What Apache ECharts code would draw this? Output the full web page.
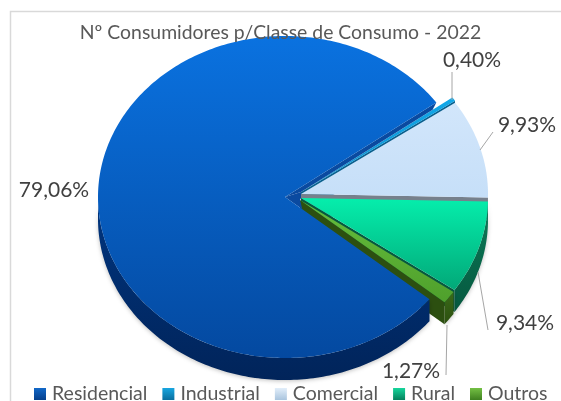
<!DOCTYPE html>
<html>
<head>
<meta charset="utf-8">
<style>
html, body { margin: 0; padding: 0; background: #fff; }
#main { width: 561px; height: 401px; }
</style>
</head>
<body>
<div id="main"></div>
<script src="https://cdn.jsdelivr.net/npm/echarts@6/dist/echarts.min.js"></script>
<script>
const titleText = 'Nº Consumidores p/Classe de Consumo - 2022'
const categories = ['Residencial', 'Industrial', 'Comercial', 'Rural', 'Outros']
const shares = [79.06, 0.40, 9.93, 9.34, 1.27]

// look of the tilted pie
const firstAngle = -39.4
const rx = 187
const ry = 161
const depth = 22
const fontName = 'Lato, sans-serif'

const apex = [[285, 197], [301, 192], [301, 194], [301, 198], [300, 200]]
const topColors = [
  ['#0a72e0', '#0449a0'],
  ['#12a8e8', '#0b8fd0'],
  ['#d2e6fb', '#c6dff8'],
  ['#05eeac', '#02a878'],
  ['#66bd3c', '#4fa02c']
]
const wallColors = [
  ['#00357f', '#01245a'],
  ['#0a5f8c', '#0a5f8c'],
  ['#76808c', '#76808c'],
  ['#0b7a58', '#06583f'],
  ['#3a6a18', '#2c4f10']
]
const iconColors = [
  ['#1268c8', '#063f8c'],
  ['#18a6e0', '#0a6f9f'],
  ['#e2eefa', '#a9c4de'],
  ['#16d69c', '#06805c'],
  ['#74c044', '#3f8020']
]
const labelAt = [[54, 190], [472, 60], [527, 125], [525, 323], [411, 371]]
const leaderLines = [
  null,
  [[452, 72], [452, 100]],
  [[493, 132], [480, 150]],
  [[488, 330], [478, 272]],
  [[446, 375], [447, 325]]
]
const drawOrder = [5, 1, 2, 3, 4] // residencial on top of the others

function gradient (pair) {
  return new echarts.graphic.LinearGradient(0, 0, 0, 1, [
    { offset: 0, color: pair[0] },
    { offset: 1, color: pair[1] }
  ])
}

function pointAt (c, deg, dy) {
  const a = deg * Math.PI / 180
  return [c[0] + rx * Math.cos(a), c[1] - ry * Math.sin(a) + (dy || 0)]
}

function arc (c, from, to, dy) {
  const n = Math.max(2, Math.ceil(Math.abs(to - from)))
  const pts = []
  for (let i = 0; i <= n; i++) {
    pts.push(pointAt(c, from + (to - from) * i / n, dy))
  }
  return pts
}

function along (a, b, t) {
  return [a[0] + (b[0] - a[0]) * t, a[1] + (b[1] - a[1]) * t]
}

// slices go clockwise from firstAngle, in data order
function sliceAngles (index, value) {
  let start = firstAngle
  for (let i = 0; i < index; i++) {
    start -= shares[i] * 3.6
  }
  if (index > 0) start += 360 // past the first slice, back to the right hand side
  return [start, start - value * 3.6]
}

function sliceItem (index, api) {
  const value = api.value(0)
  const c = apex[index]
  const [from, to] = sliceAngles(index, value)
  const children = []

  // outer wall, front half only
  const wallFrom = Math.min(from, 0)
  const wallTo = Math.max(to, -180)
  if (wallFrom > wallTo) {
    children.push({
      type: 'polygon',
      shape: { points: arc(c, wallFrom, wallTo, 0).concat(arc(c, wallFrom, wallTo, depth).reverse()) },
      style: { fill: gradient(wallColors[index]), shadowBlur: 4, shadowColor: 'rgba(0,0,0,0.25)', shadowOffsetY: 1 }
    })
  }

  if (index === 0) {
    // dark strip in the gap up to the industrial slice, and behind the apexes
    const tip = pointAt(c, to)
    const next = apex[1]
    children.push({
      type: 'polygon',
      shape: { points: [c, tip, along(next, pointAt(next, to), 0.87), next] },
      style: { fill: '#0a4aa0' }
    })
    children.push({
      type: 'polygon',
      shape: { points: [c].concat(apex.slice(1), [along(c, pointAt(c, from), 0.12)]) },
      style: { fill: '#0a4aa0' }
    })
  } else {
    // cut face on the trailing edge
    const edge = pointAt(c, to)
    children.push({
      type: 'polygon',
      shape: { points: [c, edge, [edge[0], edge[1] + depth], [c[0], c[1] + depth]] },
      style: { fill: wallColors[index][1] }
    })
  }

  // top face
  children.push({
    type: 'polygon',
    shape: { points: [c].concat(arc(c, from, to, 0)) },
    style: { fill: gradient(topColors[index]) }
  })

  if (leaderLines[index]) {
    children.push({
      type: 'polyline',
      shape: { points: leaderLines[index] },
      style: { stroke: '#a6a6a6', lineWidth: 1, fill: 'none' }
    })
  }
  children.push({
    type: 'text',
    style: {
      text: value.toFixed(2).replace('.', ',') + '%',
      x: labelAt[index][0],
      y: labelAt[index][1],
      fill: '#404040',
      font: '21px ' + fontName,
      textAlign: 'center',
      textVerticalAlign: 'middle'
    }
  })
  return { type: 'group', children: children }
}

const charts = echarts.init(document.getElementById('main'))
charts.setOption({
  animation: false,
  title: {
    text: titleText,
    left: 'center',
    top: 18,
    textStyle: { color: '#595959', fontSize: 19.4, fontWeight: 'normal', fontFamily: fontName }
  },
  legend: {
    data: categories.map((name, i) => ({
      name: name,
      icon: 'rect',
      itemStyle: { color: gradient(iconColors[i]) }
    })),
    left: 34,
    top: 384,
    padding: 0,
    itemWidth: 12,
    itemHeight: 12,
    itemGap: 15,
    selectedMode: false,
    textStyle: { color: '#595959', fontSize: 19.5, fontFamily: fontName, padding: [0, 0, 0, 1] }
  },
  graphic: [{
    type: 'rect',
    z: -1,
    shape: { x: 10.5, y: 11.5, width: 600, height: 500 },
    style: { fill: '#fff', stroke: '#d9d9d9', lineWidth: 1.5 }
  }],
  series: categories.map((name, i) => ({
    name: name,
    type: 'custom',
    coordinateSystem: 'none',
    z: drawOrder[i],
    data: [[shares[i]]],
    renderItem: (params, api) => sliceItem(i, api)
  }))
})
</script>
</body>
</html>
